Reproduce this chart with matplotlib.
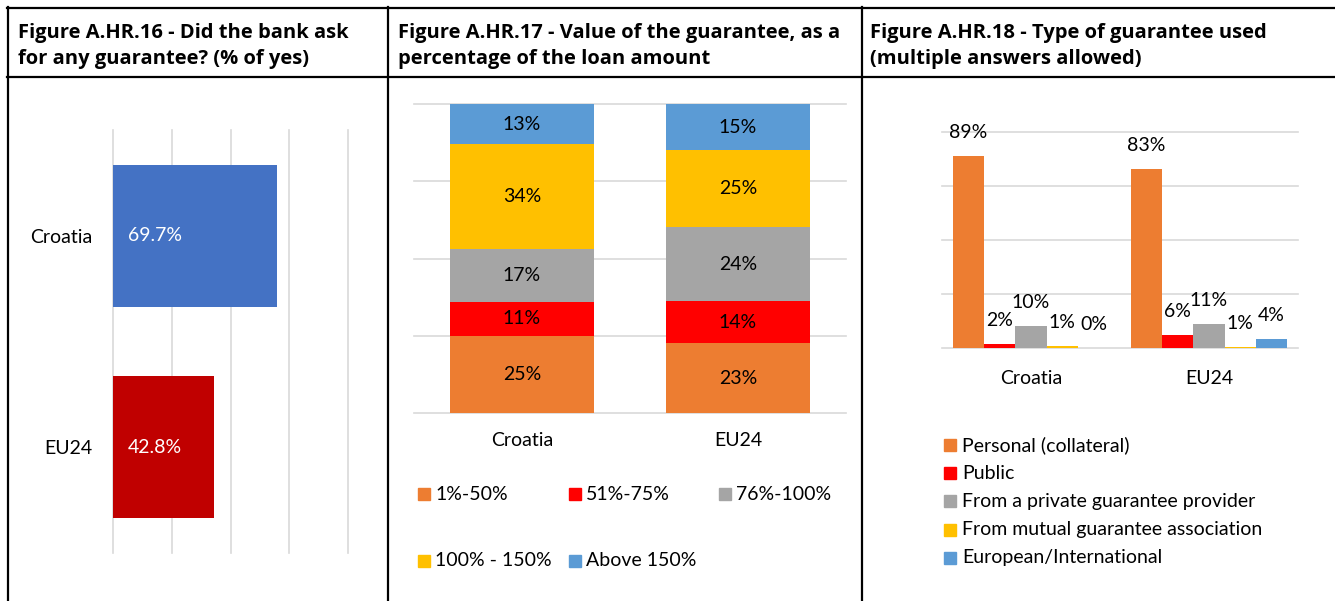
import numpy as np
import matplotlib
matplotlib.use("Agg")
import matplotlib.pyplot as plt
from matplotlib.patches import Rectangle
from matplotlib.lines import Line2D

plt.rcParams['font.family'] = ['Lato', 'DejaVu Sans']

# ---------------- data ----------------
countries = ['Croatia', 'EU24']

# Figure A.HR.16
asked_yes = [69.7, 42.8]
asked_colors = ['#4472C4', '#C00000']

# Figure A.HR.17
value_bands = ['1%-50%', '51%-75%', '76%-100%', '100% - 150%', 'Above 150%']
value_croatia = [25, 11, 17, 34, 13]
value_eu24 = [22.6, 13.6, 23.9, 24.9, 15.0]
band_colors = ['#ED7D31', '#FF0000', '#A5A5A5', '#FFC000', '#5B9BD5']

# Figure A.HR.18
guarantee_types = ['Personal (collateral)', 'Public',
                   'From a private guarantee provider',
                   'From mutual guarantee association',
                   'European/International']
type_croatia = [89, 2, 10, 1, 0]
type_eu24 = [83, 6, 11, 0.6, 4]
type_colors = ['#ED7D31', '#FF0000', '#A5A5A5', '#FFC000', '#5B9BD5']

titles = [
    ['Figure A.HR.16 - Did the bank ask', 'for any guarantee? (% of yes)'],
    ['Figure A.HR.17 - Value of the guarantee, as a', 'percentage of the loan amount'],
    ['Figure A.HR.18 - Type of guarantee used', '(multiple answers allowed)'],
]

# ---------------- layout helpers ----------------
W, H = 1335, 601
fig = plt.figure(figsize=(W / 100, H / 100), dpi=100)
FS = 14
HFS = 14.5
GRID = '#D9D9D9'
TXT = '#000000'


def fx(x):
    return x / W


def fy(y):
    return 1 - y / H


def ax_at(x0, y0, x1, y1):
    return fig.add_axes([x0 / W, 1 - y1 / H, (x1 - x0) / W, (y1 - y0) / H])


def clean(ax):
    for s in ax.spines.values():
        s.set_visible(False)
    ax.tick_params(length=0)


# ---------------- table frame ----------------
lw = 1.6
for yy in (8, 77):
    fig.add_artist(Line2D([fx(7), fx(W)], [fy(yy), fy(yy)], lw=lw, color='black'))
for xx in (8, 388, 862):
    fig.add_artist(Line2D([fx(xx), fx(xx)], [fy(7), fy(H)], lw=lw, color='black'))

title_x = [18, 398, 870]
for tx, lines in zip(title_x, titles):
    fig.text(fx(tx), fy(38), lines[0], fontsize=HFS, fontweight='bold',
             family=['Open Sans', 'DejaVu Sans'],
             va='baseline', ha='left', color=TXT)
    fig.text(fx(tx), fy(64), lines[1], fontsize=HFS, fontweight='bold',
             family=['Open Sans', 'DejaVu Sans'],
             va='baseline', ha='left', color=TXT)

# ---------------- panel 1 ----------------
ax1 = ax_at(113, 130, 348, 553)
yy = np.arange(len(countries))
ax1.barh(yy, asked_yes, height=0.67, color=asked_colors, zorder=2)
ax1.set_xlim(0, 100)
ax1.set_ylim(1.5, -0.5)
ax1.set_xticks([0, 25, 50, 75, 100])
ax1.xaxis.grid(True, color=GRID, lw=1.2, zorder=0)
ax1.set_axisbelow(True)
ax1.set_yticks(yy, countries)
clean(ax1)
ax1.tick_params(axis='x', labelbottom=False)
ax1.tick_params(axis='y', pad=15, labelsize=FS, labelcolor=TXT)
for g in ax1.get_xgridlines():
    g.set_clip_on(False)
for i, v in enumerate(asked_yes):
    ax1.annotate(f"{v:.1f}%", xy=(0, i), xytext=(11, 0), textcoords='offset points',
                 ha='left', va='center', color='white', fontsize=FS)

# ---------------- panel 2 ----------------
ax2 = ax_at(414, 104, 846, 413)
xx = np.arange(len(countries))
bottom = np.zeros(len(countries))
for k, band in enumerate(value_bands):
    vals = np.array([value_croatia[k], value_eu24[k]])
    bars = ax2.bar(xx, vals, 0.667, bottom=bottom, color=band_colors[k], zorder=2)
    ax2.bar_label(bars, labels=[f"{v:.0f}%" for v in vals], label_type='center',
                  fontsize=FS, color=TXT)
    bottom += vals
ax2.set_xlim(-0.5, 1.5)
ax2.set_ylim(0, 100)
ax2.set_yticks([0, 25, 50, 75, 100])
ax2.yaxis.grid(True, color=GRID, lw=1.2, zorder=0)
ax2.set_axisbelow(True)
ax2.set_xticks(xx, countries)
clean(ax2)
ax2.tick_params(axis='y', labelleft=False)
ax2.tick_params(axis='x', pad=14, labelsize=FS, labelcolor=TXT)
for g in ax2.get_ygridlines():
    g.set_clip_on(False)

# legend panel 2
leg2_pos = [(418, 494), (569, 494), (719, 494), (418, 561), (569, 561)]
for (lx, ly), band, c in zip(leg2_pos, value_bands, band_colors):
    fig.add_artist(Rectangle((fx(lx), fy(ly + 6)), 12 / W, 12 / H, color=c,
                             transform=fig.transFigure))
    fig.text(fx(lx + 17), fy(ly), band, fontsize=FS, va='center', ha='left', color=TXT)

# ---------------- panel 3 ----------------
ax3 = ax_at(942, 132, 1298, 348)
xc = np.arange(len(countries)) + 0.5
w = 0.176
for k, gt in enumerate(guarantee_types):
    vals = [type_croatia[k], type_eu24[k]]
    pos = xc + (k - 2) * w
    ax3.bar(pos, vals, w, color=type_colors[k], zorder=2)
    for px, v in zip(pos, vals):
        ax3.annotate(f"{v:.0f}%", xy=(px, v), xytext=(0, 13), textcoords='offset points',
                     ha='center', va='baseline', fontsize=FS, color=TXT)
ax3.set_xlim(0, 2)
ax3.set_ylim(0, 100)
ax3.set_yticks([0, 25, 50, 75, 100])
ax3.yaxis.grid(True, color=GRID, lw=1.2, zorder=0)
ax3.set_axisbelow(True)
ax3.set_xticks(xc, countries)
clean(ax3)
ax3.tick_params(axis='y', labelleft=False)
ax3.tick_params(axis='x', pad=16, labelsize=FS, labelcolor=TXT)
for g in ax3.get_ygridlines():
    g.set_clip_on(False)

# legend panel 3
for i, (gt, c) in enumerate(zip(guarantee_types, type_colors)):
    ly = 445 + i * 28.2
    fig.add_artist(Rectangle((fx(944), fy(ly + 6)), 12 / W, 12 / H, color=c,
                             transform=fig.transFigure))
    fig.text(fx(962), fy(ly), gt, fontsize=FS, va='center', ha='left', color=TXT)

fig.savefig('out.png', dpi=100)
